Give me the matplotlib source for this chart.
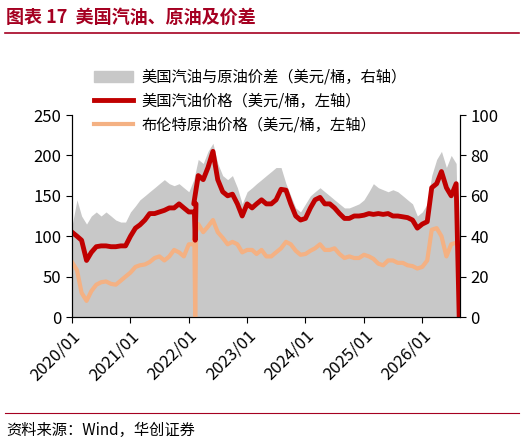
import matplotlib
matplotlib.use("Agg")
import matplotlib.pyplot as plt
import matplotlib.dates as mdates
import pandas as pd
from matplotlib.patches import Patch
from matplotlib.lines import Line2D

plt.rcParams['font.family'] = ['Noto Sans CJK SC', 'DejaVu Sans']

months = pd.date_range("2020-01-01", "2026-08-01", freq="MS")
gasoline = [105,100,95,70,80,87,88,88,87,87,88,88,
            100,110,114,120,128,128,130,132,135,135,140,135,
            130,140,175,170,185,205,170,155,150,152,140,125,
            140,135,140,145,140,140,145,158,157,140,125,120,
            122,135,145,148,140,140,135,128,122,122,125,125,
            126,128,127,128,127,128,125,125,124,123,120,110,
            115,118,160,165,180,160,150,165]
brent = [68,58,30,20,32,40,43,44,41,40,45,50,
         55,62,64,65,68,73,75,70,75,83,80,75,
         90,95,115,105,112,120,105,98,90,93,90,80,
         83,83,78,83,75,75,80,85,93,90,82,77,
         78,82,85,90,83,83,85,78,73,75,73,73,
         77,75,72,66,64,70,70,67,67,64,63,60,
         62,70,108,110,100,75,90,92]
spread = [45,58,50,46,50,52,50,52,50,48,47,47,
          52,55,58,60,62,64,66,68,66,65,66,64,
          62,68,78,76,82,86,76,70,68,70,64,56,
          62,64,66,68,70,72,74,74,66,60,54,52,
          56,60,62,64,62,60,58,56,54,54,55,56,
          58,62,66,64,63,62,63,62,60,58,56,50,
          52,56,70,78,82,74,80,76]

dates = list(months) + [pd.Timestamp("2026-08-20")]
gas_d = gasoline + [0]
br_d = brent + [brent[-1]]
sp_d = spread + [0]
i = 25
extra = [pd.Timestamp("2022-02-05"), pd.Timestamp("2022-02-10"), pd.Timestamp("2022-02-15")]
br_dates = dates[:i] + extra + dates[i:]
br_vals = br_d[:i] + [brent[24], 0, brent[25]] + br_d[i:]
gas_dates = dates[:i] + extra + dates[i:]
gas_vals = gas_d[:i] + [gasoline[24], 95, gasoline[25]] + gas_d[i:]

fig = plt.figure(figsize=(5.24, 4.44), dpi=100)
ax = fig.add_axes([72/524, 1-317/444, (460-72)/524, (317-115)/444])
ax2 = ax.twinx()
ax2.fill_between(dates, sp_d, color="#C8C8C8", lw=0, zorder=1)
ax2.set_ylim(0, 100)
ax2.set_yticks(range(0, 101, 20))
ax.set_zorder(ax2.get_zorder() + 1)
ax.patch.set_visible(False)
ax.plot(br_dates, br_vals, color="#F4B183", lw=3)
ax.plot(gas_dates, gas_vals, color="#C00000", lw=3.5)
ax.set_ylim(0, 250)
ax.set_yticks(range(0, 251, 50))
ax.set_xlim(pd.Timestamp("2020-01-01"), pd.Timestamp("2026-08-25"))
ax.xaxis.set_major_locator(mdates.YearLocator(month=1))
ax.xaxis.set_major_formatter(mdates.DateFormatter("%Y/%m"))
for lab in ax.get_xticklabels():
    lab.set_rotation(45); lab.set_ha("right"); lab.set_rotation_mode("anchor")
for a in (ax, ax2):
    a.tick_params(labelsize=12, length=4, direction="out")
    for s in a.spines.values():
        s.set_linewidth(0.8)
    a.spines['top'].set_visible(False)

handles = [Patch(color="#C8C8C8"), Line2D([], [], color="#C00000", lw=3.5), Line2D([], [], color="#F4B183", lw=3)]
labels = ["美国汽油与原油价差（美元/桶，右轴）", "美国汽油价格（美元/桶，左轴）", "布伦特原油价格（美元/桶，左轴）"]
fig.legend(handles, labels, loc="upper left", bbox_to_anchor=(80/524, 1-55/444), frameon=False,
           fontsize=11, handlelength=2.6, labelspacing=0.45, handletextpad=0.5)

fig.text(0.012, 1-17/444, "图表 17  美国汽油、原油及价差", color="#A50021", fontsize=13, fontweight="bold", va="center")
fig.add_artist(Line2D([0.01, 0.99], [1-33/444, 1-33/444], color="#A50021", lw=1.2))
fig.add_artist(Line2D([0.01, 0.99], [1-413/444, 1-413/444], color="#A50021", lw=0.8))
fig.text(0.012, 1-430/444, "资料来源：Wind，华创证券", fontsize=11, style="italic", va="center")
fig.savefig("out.png", dpi=100)
